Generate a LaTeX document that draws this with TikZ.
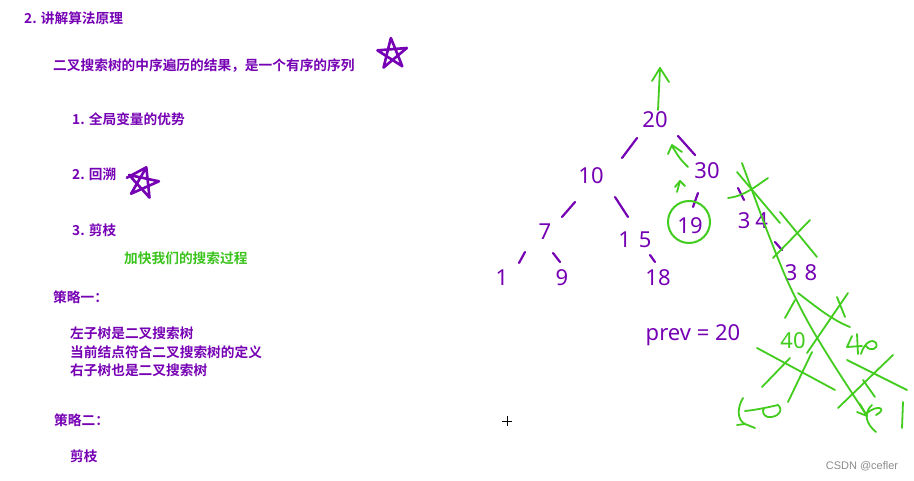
\documentclass[tikz,border=0pt]{standalone}
\usepackage{fontspec}
\newfontfamily\cjk{Noto Sans CJK SC}[BoldFont={Noto Sans CJK SC Bold}]
\newfontfamily\hand{Noto Sans}
\newfontfamily\wm{Liberation Sans}
\usetikzlibrary{calc}
\definecolor{pur}{RGB}{118,0,180}
\definecolor{grn}{RGB}{66,204,30}
\definecolor{grntxt}{RGB}{60,196,30}
\begin{document}
\begin{tikzpicture}[x=1pt,y=-1pt,
  txt/.style={anchor=west, inner sep=0pt, font=\cjk\bfseries\fontsize{13.7}{16}\selectfont, text=pur},
  num/.style={inner sep=1pt, font=\hand\fontsize{22}{22}\selectfont, text=pur},
  gnum/.style={inner sep=1pt, font=\hand\fontsize{22}{22}\selectfont, text=grn},
  pstroke/.style={draw=pur, line width=2.2pt, line cap=round, line join=round},
  gstroke/.style={draw=grn, line width=1.8pt, line cap=round, line join=round},
]
\useasboundingbox[fill=white] (0,0) rectangle (914,481);

% ---------- left text ----------
\node[txt] (h2) at (24,18) {2. 讲解算法原理};
\node[txt] (inorder) at (53,66) {二叉搜索树的中序遍历的结果，是一个有序的序列};
\node[txt] (p1) at (72,119) {1. 全局变量的优势};
\node[txt] (p2) at (72,174) {2. 回溯};
\node[txt] (p3) at (72,230) {3. 剪枝};
\node[txt, text=grntxt] (speed) at (124,258) {加快我们的搜索过程};
\node[txt] (s1) at (53,297) {策略一：};
\node[txt] (s1a) at (70,333) {左子树是二叉搜索树};
\node[txt] (s1b) at (70,352) {当前结点符合二叉搜索树的定义};
\node[txt] (s1c) at (70,370) {右子树也是二叉搜索树};
\node[txt] (s2) at (54,420) {策略二：};
\node[txt] (s2a) at (70,456) {剪枝};

% ---------- stars ----------
\begin{scope}[shift={(392,54)}, rotate=4]
  \draw[pstroke, line width=2.6pt] (-90:16) -- (54:16) -- (198:15) -- (-18:16) -- (126:16) -- (-90:16);
\end{scope}
\begin{scope}[shift={(143,183)}, rotate=-12]
  \draw[pstroke, line width=2.6pt] (186:17) -- (-90:16) -- (54:16) -- (198:16) -- (-18:16) -- (126:16) -- (-90:16);
\end{scope}

% ---------- tree ----------
\node[num] (n20) at (655,120) {20};
\node[num] (n10) at (591,176) {10};
\node[num] (n30) at (707,171) {30};
\node[num] (n7)  at (545,232) {7};
\node[num] (n15) at (635,240) {1\kern8pt 5};
\node[num] (n1)  at (502,278) {1};
\node[num] (n9)  at (562,278) {9};
\node[num] (n18) at (658,278) {18};
\node[num] (n19) at (690,226) {19};
\node[num] (n34) at (753,221) {3\kern5pt 4};
\node[num] (n38) at (801,273) {3\kern7pt 8};
\node[num] (prev) at (693,335) {prev = 20};

\draw[pstroke] ([shift={(-18,18)}]n20.center) -- ([shift={(31,-18)}]n10.center);
\draw[pstroke] ([shift={(23,16)}]n20.center) -- ([shift={(-12,-16)}]n30.center);
\draw[pstroke] ([shift={(-16,26)}]n10.center) -- ([shift={(17,-15)}]n7.center);
\draw[pstroke] ([shift={(24,21)}]n10.center) -- ([shift={(-7,-23)}]n15.center);
\draw[pstroke] ([shift={(-20,20)}]n7.center) -- ([shift={(17,-15)}]n1.center);
\draw[pstroke] ([shift={(8,21)}]n7.center) -- ([shift={(-2,-16)}]n9.center);
\draw[pstroke] ([shift={(15,15)}]n15.center) -- ([shift={(-3,-16)}]n18.center);
\draw[pstroke] ([shift={(-9,22)}]n30.center) -- ([shift={(3,-19)}]n19.center);
\draw[pstroke] ([shift={(31,17)}]n30.center) -- ([shift={(-9,-21)}]n34.center);
\draw[pstroke] ([shift={(22,21)}]n34.center) -- ([shift={(-19,-23)}]n38.center);

% ---------- green marks ----------
\node[circle, draw=grn, line width=2pt, minimum size=42pt, inner sep=0pt] (c19) at (689,222) {};
% arrow up from 20
\draw[gstroke] ([shift={(3,-10)}]n20.center) -- ([shift={(5,-52)}]n20.center);
\draw[gstroke] ([shift={(-3,-39)}]n20.center) -- ([shift={(5,-52)}]n20.center) -- ([shift={(14,-38)}]n20.center);
% arrow from 30 back to 20
\draw[gstroke] ([shift={(-19,-4)}]n30.center) .. controls ([shift={(-27,-12)}]n30.center) .. ([shift={(-35,-25)}]n30.center);
\draw[gstroke] ([shift={(-39,-17)}]n30.center) -- ([shift={(-35,-26)}]n30.center) -- ([shift={(-25,-19)}]n30.center);
% small arrow from 19 to 30
\draw[gstroke] ([shift={(-30,21)}]n30.center) -- ([shift={(-27,10)}]n30.center);
\draw[gstroke] ([shift={(-32,16)}]n30.center) -- ([shift={(-27,10)}]n30.center) -- ([shift={(-22,15)}]n30.center);

% long pruning stroke
\draw[gstroke] plot[smooth] coordinates {(742,163) (766,228) (787,280) (808,322) (832,362) (867,416)};
\draw[gstroke] (860,404) -- (867,416) -- (857,412);
% crosses near 34
\draw[gstroke] (737,172) -- (780,223);
\draw[gstroke] (728,198) .. controls (745,196) and (756,186) .. (768,178);
% crosses near 38
\draw[gstroke] (780,212) -- (817,257);
\draw[gstroke] (810,220) -- (773,258);
% crosses near 40
\draw[gstroke] (798,293) .. controls (815,306) and (832,320) .. (850,327);
\draw[gstroke] (848,293) -- (807,353);
\draw[gstroke] (795,300) -- (785,318);
\draw[gstroke] (837,297) -- (845,317);
\node[gnum] (g40) at (793,341) {40};
% crosses lower left
\draw[gstroke] (757,348) -- (835,390);
\draw[gstroke] (790,358) -- (762,387);
\draw[gstroke] (812,352) -- (788,402);
% crosses lower right
\draw[gstroke] (847,360) -- (907,390);
\draw[gstroke] (893,355) -- (838,408);
\draw[gstroke] (863,380) -- (875,397);
% scribbled leaves
\draw[gstroke] (852,336) -- (847,347) -- (862,346);
\draw[gstroke] (857,334) -- (858,354);
\draw[gstroke] (861,354) .. controls (864,343) and (872,338) .. (876,343) .. controls (879,349) and (870,352) .. (866,346);
\draw[gstroke] (743,398) .. controls (737,408) and (737,420) .. (745,424) -- (755,428);
\draw[gstroke] (737,425) -- (745,424);
\draw[gstroke] (745,411) .. controls (755,410) and (765,408) .. (778,405) .. controls (784,410) and (778,418) .. (768,417) .. controls (763,416) and (762,411) .. (764,408);
\draw[gstroke] (872,405) .. controls (863,413) and (866,424) .. (876,432);
\draw[gstroke] (866,414) .. controls (876,404) and (889,408) .. (876,415);
\draw[gstroke] (903,402) -- (902,428);

% cursor
\coordinate (cur) at (507,421);
\draw[line width=0.7pt] ([xshift=-5pt]cur) -- ([xshift=5pt]cur);
\draw[line width=0.7pt] ([yshift=-5pt]cur) -- ([yshift=5pt]cur);

% watermark
\node[font=\wm\fontsize{11}{11}\selectfont, text={rgb,255:red,140;green,140;blue,140}, inner sep=0pt] (wmk) at (862,466) {CSDN @cefler};
\end{tikzpicture}
\end{document}
